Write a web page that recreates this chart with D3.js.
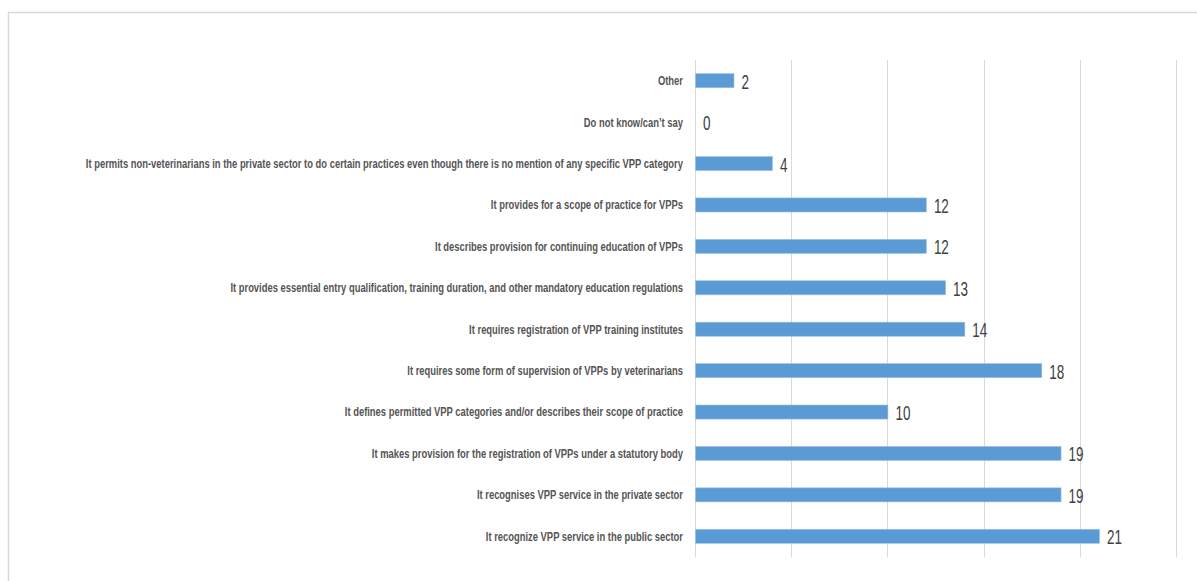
<!DOCTYPE html>
<html>
<head>
<meta charset="utf-8">
<script src="https://cdn.jsdelivr.net/npm/d3@7"></script>
<style>
html,body{margin:0;padding:0;background:#fff;}
svg{display:block;}
</style>
</head>
<body>
<svg id="chart" width="1197" height="581"></svg>
<script>
const categories = [
  "Other",
  "Do not know/can’t say",
  "It permits non-veterinarians in the private sector to do certain practices even though there is no mention of any specific VPP category",
  "It provides for a scope of practice for VPPs",
  "It describes provision for continuing education of VPPs",
  "It provides essential entry qualification, training duration, and other mandatory education regulations",
  "It requires registration of VPP training institutes",
  "It requires some form of supervision of VPPs by veterinarians",
  "It defines permitted VPP categories and/or describes their scope of practice",
  "It makes provision for the registration of VPPs under a statutory body",
  "It recognises VPP service in the private sector",
  "It recognize VPP service in the public sector"
];
const values = [2, 0, 4, 12, 12, 13, 14, 18, 10, 19, 19, 21];
const xTicks = [0, 5, 10, 15, 20, 25];

const svg = d3.select("#chart");
const x = d3.scaleLinear().domain([0, 25]).range([695, 1176]);
const y = d3.scaleBand().domain(categories).range([60, 557]).paddingInner(0.66).paddingOuter(0.33);

// frame
svg.append("line").attr("x1", 8).attr("x2", 1197).attr("y1", 12.5).attr("y2", 12.5)
  .attr("stroke", "#d9d9d9").attr("stroke-width", 1.5);
svg.append("line").attr("x1", 8.5).attr("x2", 8.5).attr("y1", 12).attr("y2", 581)
  .attr("stroke", "#d9d9d9").attr("stroke-width", 1.5);

// gridlines
svg.append("g").selectAll("line").data(xTicks).join("line")
  .attr("x1", d => Math.round(x(d)) + 0.5).attr("x2", d => Math.round(x(d)) + 0.5)
  .attr("y1", 60).attr("y2", 557)
  .attr("stroke", "#d9d9d9").attr("stroke-width", 1);

// bars
svg.append("g").selectAll("rect").data(values).join("rect")
  .attr("x", x(0) + 0.5)
  .attr("y", (d, i) => y(categories[i]))
  .attr("width", d => Math.max(0, x(d) - x(0)))
  .attr("height", y.bandwidth())
  .attr("fill", "#5b9bd5")
  .attr("stroke", d => d > 0 ? "#9cc3e6" : "none")
  .attr("stroke-width", 0.6);

// category labels
const labG = svg.append("g");
const labs = labG.selectAll("text").data(categories).join("text")
  .attr("font-family", "'Liberation Sans Narrow','Liberation Sans',Arial,sans-serif")
  .attr("font-weight", "bold")
  .attr("font-size", 12.5)
  .attr("fill", "#555555")
  .attr("text-anchor", "end")
  .attr("dy", "0.35em")
  .text(d => d);
let maxW = 0;
labs.each(function() { maxW = Math.max(maxW, this.getComputedTextLength()); });
const sx = 598 / maxW;
labs.attr("transform", d => `translate(683,${y(d) + y.bandwidth() / 2}) scale(${sx},1)`);

// value labels
const vals = svg.append("g").selectAll("text").data(values).join("text")
  .attr("font-family", "'Liberation Sans Narrow','Liberation Sans',Arial,sans-serif")
  .attr("font-size", 20)
  .attr("fill", "#404040")
  .attr("dy", "0.35em")
  .text(d => d);
let w12 = 0;
vals.each(function(d) { if (d === 12) w12 = this.getComputedTextLength(); });
const vsx = w12 ? 15 / w12 : 0.65;
vals.attr("transform", (d, i) => `translate(${x(d) + 8},${y(categories[i]) + y.bandwidth() / 2 + 1}) scale(${vsx},1)`);
</script>
</body>
</html>
